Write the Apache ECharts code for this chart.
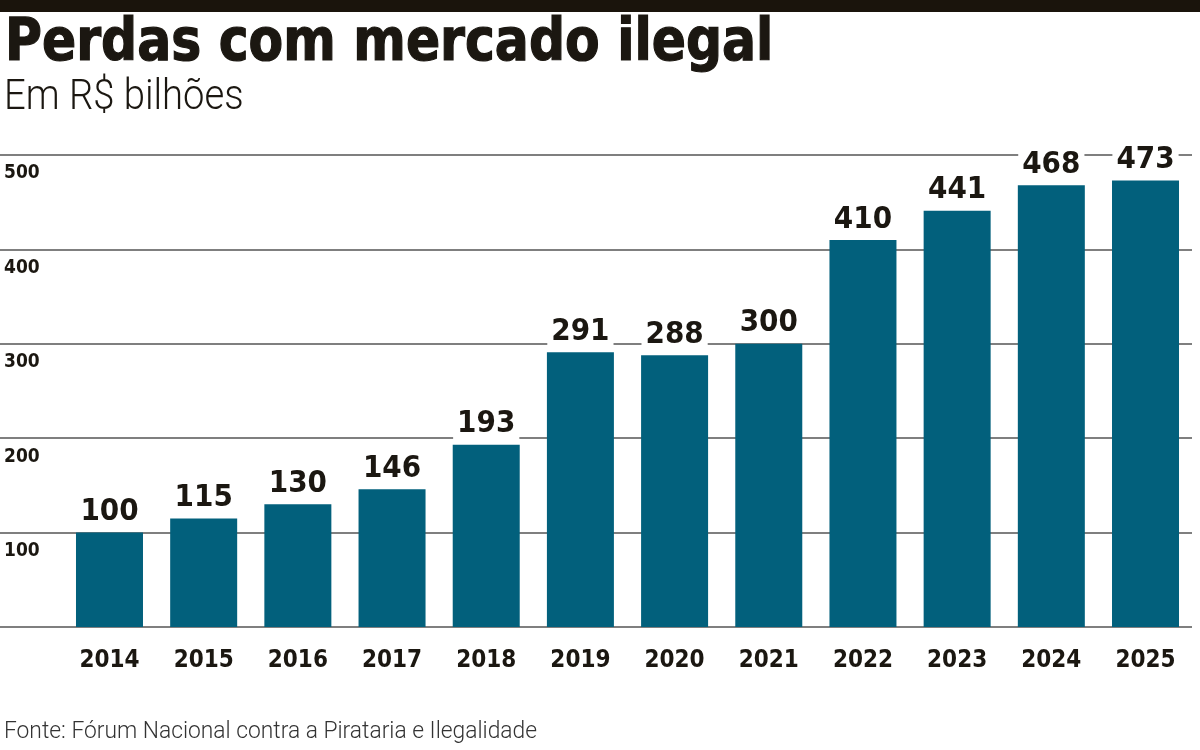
<!DOCTYPE html>
<html>
<head>
<meta charset="utf-8">
<script src="https://cdn.jsdelivr.net/npm/echarts@6/dist/echarts.min.js"></script>
<style>
  html, body { margin: 0; padding: 0; background: #fff; }
  #chart { width: 1200px; height: 750px; }
</style>
</head>
<body>
<div id="chart"></div>
<script>
const years = ['2014', '2015', '2016', '2017', '2018', '2019', '2020', '2021', '2022', '2023', '2024', '2025'];
const losses = [100, 115, 130, 146, 193, 291, 288, 300, 410, 441, 468, 473];
const yTicks = [0, 100, 200, 300, 400, 500];

const ink = '#1b1711';
const barColor = '#02607c';
const gridTop = 155;
const gridBottom = 123;

const chart = echarts.init(document.getElementById('chart'));

chart.setOption({
    animation: false,
    backgroundColor: '#fff',
    graphic: [
        { type: 'rect', left: 0, top: 0, shape: { width: 1200, height: 12 }, style: { fill: '#1a140c' } },
        {
            type: 'text', x: 5, y: 45, scaleX: 0.95,
            style: { text: 'Perdas com mercado ilegal', fill: ink, font: 'bold 59px "DejaVu Sans Condensed"', verticalAlign: 'middle',
                stroke: ink, lineWidth: 1.2 }
        },
        {
            type: 'text', x: 4, y: 98, scaleX: 0.91,
            style: { text: 'Em R$ bilhões', fill: ink, font: '300 42px Roboto', verticalAlign: 'middle' }
        },
        {
            type: 'text', x: 4, y: 732, scaleX: 0.95,
            style: { text: 'Fonte: Fórum Nacional contra a Pirataria e Ilegalidade', fill: '#333', font: '300 24px Roboto', verticalAlign: 'middle' }
        }
    ],
    grid: [
        { left: 0, right: 8, top: gridTop, bottom: gridBottom },
        { left: 62.4, right: 7.4, top: gridTop, bottom: gridBottom }
    ],
    xAxis: [
        { gridIndex: 0, type: 'value', show: false },
        {
            gridIndex: 1, type: 'category', data: years,
            axisLine: { show: false }, axisTick: { show: false },
            axisLabel: { color: ink, fontFamily: 'DejaVu Sans Condensed', fontWeight: 'bold', fontSize: 24, margin: 22 }
        }
    ],
    yAxis: [
        {
            gridIndex: 0, type: 'value', min: yTicks[0], max: yTicks[yTicks.length - 1], interval: 100,
            axisLine: { show: false }, axisTick: { show: false },
            splitLine: { lineStyle: { color: '#555', width: 1.5 } },
            axisLabel: {
                inside: true, showMinLabel: false, margin: 4, verticalAlign: 'top',
                padding: [9, 0, 0, 0],
                color: ink, fontFamily: 'DejaVu Sans Condensed', fontWeight: 'bold', fontSize: 19
            }
        },
        {
            gridIndex: 1, type: 'value', min: yTicks[0], max: yTicks[yTicks.length - 1], interval: 100,
            show: false, splitLine: { show: false }
        }
    ],
    series: [{
        type: 'bar', xAxisIndex: 1, yAxisIndex: 1,
        data: losses, barWidth: 67,
        itemStyle: { color: barColor },
        label: {
            show: true, position: 'top', distance: 5,
            color: ink, fontFamily: 'DejaVu Sans Condensed', fontWeight: 'bold', fontSize: 31,
            backgroundColor: '#fff', padding: [0, 4, 0, 4]
        }
    }]
});
</script>
</body>
</html>
